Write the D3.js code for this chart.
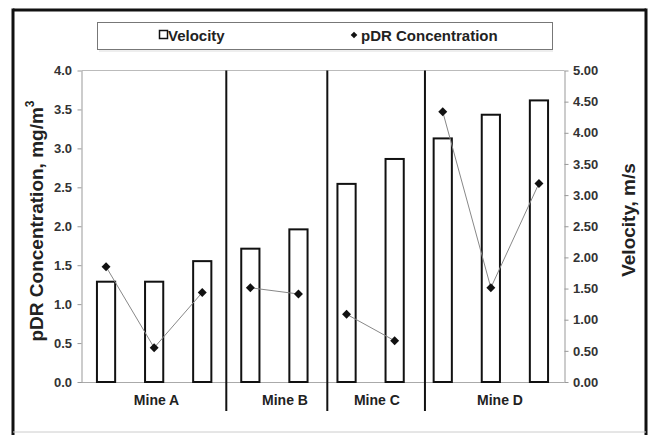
<!DOCTYPE html>
<html><head><meta charset="utf-8">
<script src="https://cdn.jsdelivr.net/npm/d3@7"></script>
<style>
html,body{margin:0;padding:0;background:#fff;}
svg{display:block;font-family:"Liberation Sans",Arial,sans-serif;}
</style></head>
<body>
<script>
// ---- data ----
const categories = ["A1","A2","A3","B1","B2","C1","C2","D1","D2","D3"];
const groups = ["A","A","A","B","B","C","C","D","D","D"];
const velocity = [1.61, 1.61, 1.94, 2.14, 2.45, 3.18, 3.58, 3.91, 4.29, 4.52];
const concentration = [1.48, 0.44, 1.15, 1.21, 1.13, 0.87, 0.53, 3.47, 1.21, 2.55];
const mineLabels = ["Mine A","Mine B","Mine C","Mine D"];
const mineLabelPos = [1.55, 4.22, 6.13, 8.69];      // in category units
const separatorPos = [3, 5.1, 7.13];                 // in category units
const leftTicks = [0,0.5,1,1.5,2,2.5,3,3.5,4];
const rightTicks = [0,0.5,1,1.5,2,2.5,3,3.5,4,4.5,5];

const W = 655, H = 435;
const svg = d3.select("body").append("svg").attr("width", W).attr("height", H);

const plotL = 81.5, plotR = 564.5, plotT = 70.5, plotB = 382;
const x = d3.scaleBand().domain(categories).range([82, 563]).paddingInner(0.58).paddingOuter(0.29);
const xu = d3.scaleLinear().domain([0, categories.length]).range([82, 563]);
const yL = d3.scaleLinear().domain([0, 4]).range([plotB, plotT]);
const yR = d3.scaleLinear().domain([0, 5]).range([plotB, plotT]);

// outer frame
svg.append("line").attr("x1",13).attr("y1",10).attr("x2",646).attr("y2",10).attr("stroke","#111").attr("stroke-width",3);
svg.append("line").attr("x1",13).attr("y1",8.5).attr("x2",13).attr("y2",435).attr("stroke","#111").attr("stroke-width",3);
svg.append("line").attr("x1",646).attr("y1",8.5).attr("x2",646).attr("y2",435).attr("stroke","#111").attr("stroke-width",3);
svg.append("line").attr("x1",13).attr("y1",432).attr("x2",646).attr("y2",432).attr("stroke","#ccc").attr("stroke-width",1);

// legend
const lg = svg.append("g");
lg.append("rect").attr("x",97.5).attr("y",22.5).attr("width",455).attr("height",27)
  .attr("fill","#fff").attr("stroke","#777").attr("stroke-width",1);
lg.append("line").attr("x1",99).attr("y1",51).attr("x2",553).attr("y2",51).attr("stroke","#ddd");
lg.append("rect").attr("x",159.5).attr("y",30.5).attr("width",8).attr("height",8)
  .attr("fill","#fff").attr("stroke","#111").attr("stroke-width",1.5);
lg.append("text").attr("x",168).attr("y",40.5).attr("font-size",15).attr("font-weight","bold").attr("fill","#222").text("Velocity");
lg.append("path").attr("d", d3.symbol().type(d3.symbolSquare).size(22)())
  .attr("transform","translate(354,35) rotate(45)").attr("fill","#111");
lg.append("text").attr("x",361).attr("y",40.5).attr("font-size",15).attr("font-weight","bold").attr("fill","#222").text("pDR Concentration");

// plot top border & baseline
svg.append("line").attr("x1",plotL).attr("x2",plotR).attr("y1",plotT).attr("y2",plotT).attr("stroke","#bbb");
svg.append("line").attr("x1",plotL-2).attr("x2",plotR).attr("y1",plotB+0.5).attr("y2",plotB+0.5).attr("stroke","#aaa");

// axes
const axL = svg.append("g").attr("transform",`translate(${plotL},0)`)
  .call(d3.axisLeft(yL).tickValues(leftTicks).tickFormat(d3.format(".1f")).tickSize(4).tickSizeOuter(0));
const axR = svg.append("g").attr("transform",`translate(${plotR},0)`)
  .call(d3.axisRight(yR).tickValues(rightTicks).tickFormat(d3.format(".2f")).tickSize(4).tickSizeOuter(0));
[axL, axR].forEach(a => {
  a.select(".domain").attr("stroke","#999");
  a.selectAll(".tick line").attr("stroke","#999");
  a.selectAll(".tick text").attr("font-size",13).attr("font-weight","bold").attr("fill","#333")
   .attr("font-family","'Liberation Sans',Arial,sans-serif");
});
axL.selectAll(".tick text").attr("x",-9.5);
axR.selectAll(".tick text").attr("x",8.5);

// bars
svg.append("g").selectAll("rect").data(categories).join("rect")
  .attr("x", d => x(d) + 1).attr("width", x.bandwidth() - 2)
  .attr("y", (d,i) => yR(velocity[i])).attr("height", (d,i) => plotB - yR(velocity[i]))
  .attr("fill","#fff").attr("stroke","#111").attr("stroke-width",2);

// separators
svg.append("g").selectAll("line").data(separatorPos).join("line")
  .attr("x1", d => xu(d)).attr("x2", d => xu(d)).attr("y1", plotT).attr("y2", 411)
  .attr("stroke","#111").attr("stroke-width",2);

// concentration lines (within each group)
const pts = categories.map((c,i) => ({g: groups[i], x: x(c) + x.bandwidth()/2, y: yL(concentration[i])}));
const byGroup = d3.groups(pts, d => d.g);
const line = d3.line().x(d => d.x).y(d => d.y);
svg.append("g").selectAll("path").data(byGroup).join("path")
  .attr("d", d => line(d[1])).attr("fill","none").attr("stroke","#888").attr("stroke-width",1);
svg.append("g").selectAll("path").data(pts).join("path")
  .attr("d", d3.symbol().type(d3.symbolSquare).size(40)())
  .attr("transform", d => `translate(${d.x},${d.y}) rotate(45)`).attr("fill","#111");

// mine labels
svg.append("g").selectAll("text").data(mineLabels).join("text")
  .attr("x", (d,i) => xu(mineLabelPos[i])).attr("y", 405)
  .attr("text-anchor","middle").attr("font-size",14).attr("font-weight","bold").attr("fill","#222").text(d => d);

// axis titles
const tl = svg.append("text").attr("transform",`translate(43,221) rotate(-90)`)
  .attr("text-anchor","middle").attr("font-size",19).attr("font-weight","bold").attr("fill","#222");
tl.append("tspan").text("pDR Concentration, mg/m");
tl.append("tspan").attr("dy",-9).attr("font-size",12).text("3");
svg.append("text").attr("transform",`translate(635,220) rotate(-90)`)
  .attr("text-anchor","middle").attr("font-size",19).attr("font-weight","bold").attr("fill","#222")
  .text("Velocity, m/s");
</script>
</body></html>
